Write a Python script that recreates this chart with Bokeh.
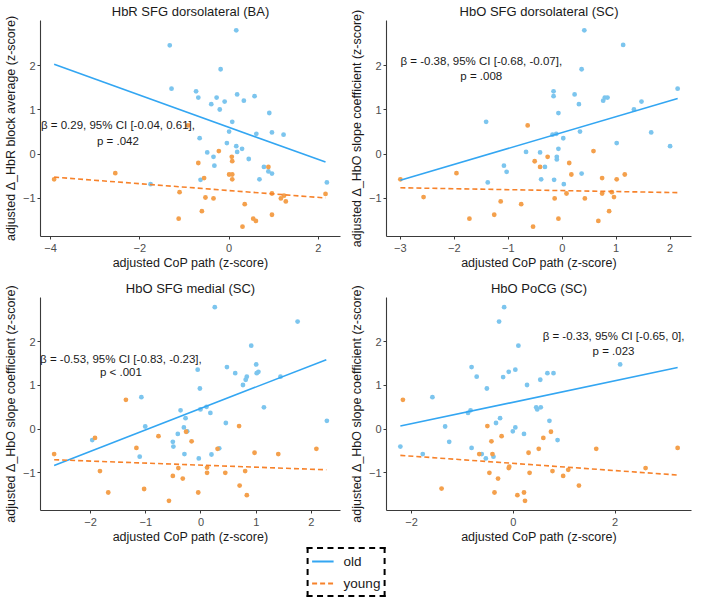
from bokeh.plotting import figure
from bokeh.models import Range1d, FixedTicker, ColumnDataSource, Legend, LegendItem
from bokeh.layouts import gridplot, column
from bokeh.core.properties import value
from bokeh.embed import file_html
from bokeh.resources import INLINE

FONT = "Liberation Sans"

# ---------------- data ----------------
titles = ["HbR SFG dorsolateral (BA)", "HbO SFG dorsolateral (SC)",
          "HbO SFG medial (SC)", "HbO PoCG (SC)"]
ylabels = ["adjusted \u0394_HbR block average (z-score)",
           "adjusted \u0394_HbO slope coefficient (z-score)",
           "adjusted \u0394_HbO slope coefficient (z-score)",
           "adjusted \u0394_HbO slope coefficient (z-score)"]
xlabel = "adjusted CoP path (z-score)"
legend_labels = ["old", "young"]

p1_old_x = [0.16, -1.33, -0.19, -1.29, -0.74, -0.69, -0.28, 0.18, 0.33, 0.57, -0.40, -0.10, -0.21, 0.90, 0.07,
            0.00, 0.61, 0.96, 1.22, -0.66, -0.05, 0.16, 0.29, 0.18, -0.49, -0.35, 0.44, -0.33, 0.78, 0.88,
            0.96, -0.64, 0.68, 2.19, -1.76]
p1_old_y = [2.80, 2.46, 1.92, 1.48, 1.42, 1.28, 1.28, 1.35, 1.21, 1.31, 1.13, 1.19, 1.01, 0.93, 0.73,
            0.51, 0.46, 0.49, 0.44, 0.36, 0.25, 0.18, 0.12, 0.05, 0.04, -0.06, -0.11, -0.26, -0.29, -0.39,
            -0.44, -0.58, -0.57, -0.64, -0.68]
p1_young_x = [-0.92, -0.23, 0.06, 0.07, -0.69, 0.00, 0.07, 0.07, -0.56, -2.55, -3.92, 0.88, -1.11, -0.53, -0.35,
              0.96, 1.16, 1.23, 1.27, 2.16, 0.35, -0.61, -1.13, 0.54, 0.60, 0.30, 0.96]
p1_young_y = [0.65, 0.07, -0.06, -0.16, -0.20, -0.46, -0.46, -0.57, -0.54, -0.43, -0.57, -0.29, -0.86, -0.98, -1.00,
              -0.89, -1.00, -0.94, -1.07, -0.90, -1.13, -1.29, -1.46, -1.46, -1.51, -1.64, -1.37]
p1_fit_x = [-3.92, 2.16]
p1_fit_old = [2.03, -0.18]
p1_fit_young = [-0.52, -0.99]
p1_xticks = [-4, -2, 0, 2]
p1_ann_x = [-2.49, -2.49]
p1_ann_y = [0.67, 0.29]
p1_ann = ["\u03b2 = 0.29, 95% CI [-0.04, 0.61],", "p = .042"]

p2_old_x = [0.41, 1.13, 0.36, 2.14, -0.16, -0.16, 0.23, 0.31, 0.76, 0.79, 0.84, 1.33, 1.47, -0.07, -1.41,
            -0.18, -0.11, 0.02, 0.33, 1.65, 1.01, 2.00, -0.67, -0.41, -0.07, -0.10, -0.10, -1.08, -1.03, -0.32,
            0.36, -0.39, -0.15, 0.03, -1.38]
p2_old_y = [2.80, 2.47, 1.92, 1.48, 1.42, 1.31, 1.35, 1.13, 1.21, 1.28, 1.28, 1.01, 1.19, 0.93, 0.73,
            0.44, 0.46, 0.36, 0.51, 0.49, 0.25, 0.18, 0.05, 0.04, 0.12, -0.06, -0.12, -0.26, -0.40, -0.29,
            -0.44, -0.57, -0.58, -0.68, -0.64]
p2_young_x = [-0.64, 0.58, -0.27, -0.51, -0.41, 0.13, 0.17, 0.74, 1.01, 1.16, -1.96, -3.00, -2.57, -1.14, -0.76,
              -0.14, 0.08, 0.42, 0.74, 0.92, 0.96, -1.26, -1.72, -0.07, 0.67, 0.87, -0.54]
p2_young_y = [0.65, 0.07, -0.06, -0.16, -0.29, -0.20, -0.46, -0.54, -0.57, -0.46, -0.43, -0.57, -0.97, -1.07, -1.13,
              -1.00, -0.89, -1.00, -0.89, -0.86, -0.97, -1.37, -1.46, -1.46, -1.51, -1.29, -1.64]
p2_fit_x = [-3.00, 2.14]
p2_fit_old = [-0.59, 1.26]
p2_fit_young = [-0.76, -0.87]
p2_xticks = [-3, -2, -1, 0, 1, 2]
p2_ann_x = [-1.50, -1.50]
p2_ann_y = [2.11, 1.77]
p2_ann = ["\u03b2 = -0.38, 95% CI [-0.68, -0.07],", "p = .008"]

p3_old_x = [0.25, 1.75, 0.91, 0.47, 0.62, 1.00, 1.01, 1.04, 0.83, 0.81, 0.76, 1.44, -0.06, -0.02, -1.08,
            0.10, -0.01, -0.37, 0.17, 1.14, -0.28, 0.45, 2.28, -1.01, -0.31, -0.25, -0.42, -0.51, -0.50, -1.97,
            0.33, -0.30, 0.19, -0.04, -1.11]
p3_old_y = [2.79, 2.46, 1.91, 1.42, 1.28, 1.48, 1.28, 1.31, 1.20, 1.13, 1.01, 1.20, 1.36, 0.93, 0.73,
            0.51, 0.45, 0.43, 0.37, 0.50, 0.25, 0.14, 0.19, 0.06, 0.04, -0.05, -0.11, -0.29, -0.40, -0.25,
            -0.44, -0.57, -0.58, -0.67, -0.63]
p3_young_x = [-1.36, 0.69, -0.27, -0.77, -1.92, -0.17, 0.30, -1.17, 0.97, 1.40, 2.09, -2.66, -1.83, -0.41, 0.11,
              0.11, 0.44, 0.80, -0.51, -0.33, -1.03, -1.68, -0.05, 0.70, 0.83, -0.58]
p3_young_y = [0.67, 0.07, -0.06, -0.16, -0.20, -0.28, -0.45, -0.43, -0.54, -0.57, -0.45, -0.57, -0.96, -0.89, -0.88,
              -1.00, -1.00, -0.96, -1.07, -1.13, -1.37, -1.45, -1.45, -1.29, -1.51, -1.64]
p3_fit_x = [-2.66, 2.27]
p3_fit_old = [-0.83, 1.59]
p3_fit_young = [-0.70, -0.93]
p3_xticks = [-2, -1, 0, 1, 2]
p3_ann_x = [-1.45, -1.45]
p3_ann_y = [1.61, 1.30]
p3_ann = ["\u03b2 = -0.53, 95% CI [-0.83, -0.23],", "p < .001"]

p4_old_x = [-0.18, -0.28, 0.10, 2.10, -0.82, -0.72, -0.20, -0.09, 0.04, 0.67, 0.79, 0.53, 0.27, -0.52, -1.59,
            -0.84, -0.89, 0.45, 0.54, 0.47, -0.26, 0.71, -0.34, -1.34, 0.04, -0.01, 0.21, 0.87, -1.26, -2.22,
            -0.82, -1.78, -0.62, -0.39, -0.54]
p4_old_y = [2.79, 2.46, 1.91, 1.48, 1.42, 1.20, 1.19, 1.31, 1.36, 1.28, 1.28, 1.13, 1.01, 0.93, 0.73,
            0.43, 0.37, 0.50, 0.50, 0.45, 0.25, 0.19, 0.14, 0.06, 0.04, -0.05, -0.11, -0.25, -0.29, -0.40,
            -0.43, -0.57, -0.57, -0.63, -0.67]
p4_young_x = [-2.17, -0.51, 0.74, -0.23, 0.59, -0.43, 0.50, 1.63, 3.23, -0.67, -0.41, 0.30, -0.08, -0.09, -0.47,
              0.32, 0.77, 1.08, 0.98, 2.60, -0.30, -1.41, -0.37, 0.08, 0.21, 0.23, 1.29]
p4_young_y = [0.67, 0.07, -0.06, -0.16, -0.20, -0.28, -0.45, -0.45, -0.43, -0.57, -0.57, -0.54, -0.86, -0.89, -1.00,
              -1.00, -0.96, -0.93, -1.07, -0.89, -1.13, -1.36, -1.45, -1.51, -1.45, -1.64, -1.29]
p4_fit_x = [-2.22, 3.23]
p4_fit_old = [0.07, 1.41]
p4_fit_young = [-0.60, -1.05]
p4_xticks = [-2, 0, 2]
p4_ann_x = [1.97, 1.97]
p4_ann_y = [2.12, 1.79]
p4_ann = ["\u03b2 = -0.33, 95% CI [-0.65, 0],", "p = .023"]

yticks = [-1, 0, 1, 2]

# ---------------- styles ----------------
OLD_LINE = "#33A6F2"
YOUNG_LINE = "#F7822A"
OLD_PT = "#7CC5EE"
YOUNG_PT = "#F4A04C"
AXIS = "#3a3a3a"
TICKTXT = "#4d4d4d"
TXT = "#1a1a1a"


def padded(vals):
    lo, hi = min(vals), max(vals)
    pad = 0.05 * (hi - lo)
    return Range1d(lo - pad, hi + pad)


def panel(title, ylabel, ox, oy, yx, yy, fx, fo, fy, xticks, ax, ay, atext,
          width, height, left, right, top):
    p = figure(width=width, height=height, output_backend="svg", toolbar_location=None,
               x_range=padded(ox + yx), y_range=padded(oy + yy),
               min_border_left=left, min_border_right=right, min_border_top=top, min_border_bottom=30)
    p.title.text = title
    p.title.align = "center"
    p.title.text_font = FONT
    p.title.text_font_size = "13px"
    p.title.text_font_style = "normal"
    p.title.text_color = TXT
    p.title.standoff = 3
    p.outline_line_color = None
    p.grid.visible = False
    p.background_fill_color = "white"
    p.border_fill_color = "white"

    p.xaxis.ticker = FixedTicker(ticks=xticks)
    p.yaxis.ticker = FixedTicker(ticks=yticks)
    p.xaxis.axis_label = xlabel
    p.yaxis.axis_label = ylabel
    for a in (p.xaxis, p.yaxis):
        a.axis_line_color = AXIS
        a.axis_line_width = 1.1
        a.major_tick_line_color = AXIS
        a.major_tick_out = 3
        a.major_tick_in = 0
        a.minor_tick_out = 0
        a.minor_tick_in = 0
        a.major_label_text_font = FONT
        a.major_label_text_font_size = "11px"
        a.major_label_text_color = TICKTXT
        a.major_label_standoff = 2
        a.axis_label_text_font = FONT
        a.axis_label_text_font_size = "12.5px"
        a.axis_label_text_font_style = "normal"
        a.axis_label_text_color = TXT
        a.axis_label_standoff = 2
    p.xaxis.major_label_standoff = 4
    p.xaxis.axis_label_standoff = 1

    p.scatter(ox, oy, size=4.8, fill_color=OLD_PT, line_color=None)
    p.scatter(yx, yy, size=4.8, fill_color=YOUNG_PT, line_color=None)
    p.line(fx, fo, line_color=OLD_LINE, line_width=1.6)
    p.line(fx, fy, line_color=YOUNG_LINE, line_width=1.6, line_dash="5 3")
    p.text(x=ax, y=ay, text=atext, text_align="center", text_baseline="middle",
           text_font=value(FONT), text_font_size="11.5px", text_color=TXT)
    return p


p1 = panel(titles[0], ylabels[0], p1_old_x, p1_old_y, p1_young_x, p1_young_y,
           p1_fit_x, p1_fit_old, p1_fit_young, p1_xticks, p1_ann_x, p1_ann_y, p1_ann,
           346, 272, 30, 6, 19)
p2 = panel(titles[1], ylabels[1], p2_old_x, p2_old_y, p2_young_x, p2_young_y,
           p2_fit_x, p2_fit_old, p2_fit_young, p2_xticks, p2_ann_x, p2_ann_y, p2_ann,
           346, 272, 35, 1, 19)
p3 = panel(titles[2], ylabels[2], p3_old_x, p3_old_y, p3_young_x, p3_young_y,
           p3_fit_x, p3_fit_old, p3_fit_young, p3_xticks, p3_ann_x, p3_ann_y, p3_ann,
           346, 274, 30, 6, 25)
p4 = panel(titles[3], ylabels[3], p4_old_x, p4_old_y, p4_young_x, p4_young_y,
           p4_fit_x, p4_fit_old, p4_fit_young, p4_xticks, p4_ann_x, p4_ann_y, p4_ann,
           346, 274, 35, 1, 25)

# ---------------- legend strip ----------------
lg = figure(width=692, height=52, output_backend="svg", toolbar_location=None,
            x_range=Range1d(0, 1), y_range=Range1d(0, 1),
            min_border_left=0, min_border_right=0, min_border_top=0, min_border_bottom=0)
lg.axis.visible = False
lg.grid.visible = False
lg.outline_line_color = None
proxy = ColumnDataSource(dict(x=[float("nan")], y=[float("nan")]))
r_old = lg.line("x", "y", source=proxy, line_color=OLD_LINE, line_width=1.8)
r_young = lg.line("x", "y", source=proxy, line_color=YOUNG_LINE, line_width=1.8, line_dash="5 3")
leg = Legend(items=[LegendItem(label=legend_labels[0], renderers=[r_old]),
                    LegendItem(label=legend_labels[1], renderers=[r_young])],
             location="center", orientation="vertical",
             border_line_color="black", border_line_alpha=1.0, border_line_width=2,
             border_line_dash="5 3",
             background_fill_color="white", background_fill_alpha=1.0,
             label_text_font=FONT, label_text_font_size="13.5px", label_text_color=TXT,
             glyph_width=22, glyph_height=18, label_height=18, label_standoff=10,
             spacing=4, padding=3, margin=0)
lg.add_layout(leg, "center")

grid = gridplot([[p1, p2], [p3, p4]], toolbar_location=None)
layout = column(grid, lg)

open("out.html", "w").write(file_html(layout, INLINE))
